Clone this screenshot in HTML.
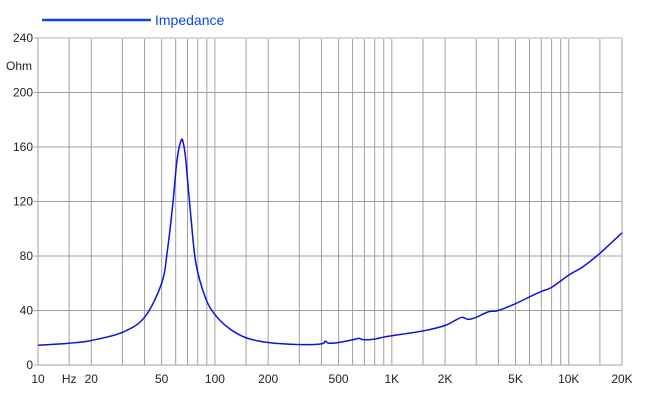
<!DOCTYPE html><html><head><style>body{margin:0;background:#fff}svg{display:block;font-family:"Liberation Sans",Arial,sans-serif}</style></head><body>
<svg id="s" width="650" height="406" xmlns="http://www.w3.org/2000/svg">
<line x1="42" y1="20" x2="151" y2="20" stroke="#0a46f0" stroke-width="2.5"/>
<text x="155" y="25" font-size="14" fill="#0a46f0">Impedance</text>
<g id="g"></g>
</svg>
<script>
const s=document.getElementById('g');
const L=38,R=622,T=38,B=365,D=(R-L)/Math.log10(2000);
const X=f=>L+Math.log10(f/10)*D,Y=v=>B-(v/240)*(B-T);
let h='';
[15,20,30,40,50,60,70,80,90,100,150,200,300,400,500,600,700,800,900,1000,1500,2000,3000,4000,5000,6000,7000,8000,9000,10000,15000,20000].forEach(f=>{h+=`<line x1="${X(f)}" y1="${T}" x2="${X(f)}" y2="${B}" stroke="#a0a0a0" stroke-width="1"/>`});
for(let v=40;v<=200;v+=40)h+=`<line x1="${L}" y1="${Y(v)}" x2="${R}" y2="${Y(v)}" stroke="#a0a0a0"/>`;
h+=`<line x1="${L}" y1="${T}" x2="${R}" y2="${T}" stroke="#d8d8d8" stroke-width="2"/>`;
h+=`<line x1="${L}" y1="${T}" x2="${L}" y2="${B}" stroke="#a0a0a0"/><line x1="${L}" y1="${B}" x2="${R}" y2="${B}" stroke="#a0a0a0"/>`;
for(let v=0;v<=240;v+=40){h+=`<line x1="${L-4}" y1="${Y(v)}" x2="${L}" y2="${Y(v)}" stroke="#a0a0a0"/><text x="${L-5}" y="${Y(v)+4}" font-size="12" text-anchor="end" fill="#222">${v}</text>`}
h+=`<text x="6" y="70" font-size="12" fill="#222">Ohm</text>`;
[[10,'10'],[15,'Hz'],[20,'20'],[50,'50'],[100,'100'],[200,'200'],[500,'500'],[1000,'1K'],[2000,'2K'],[5000,'5K'],[10000,'10K'],[20000,'20K']].forEach(([f,t])=>{h+=`<text x="${X(f)}" y="383" font-size="12" text-anchor="middle" fill="#222">${t}</text>`});
const d=[[10,14.5],[15,16],[20,18],[30,24],[40,35],[50,60],[54,85],[58,120],[61,150],[64.5,165],[66.5,162],[68.5,150],[73,110],[78,75],[88,50],[100,37],[120,27],[150,20],[200,16.5],[300,15],[400,15.5],[420,17.5],[440,16],[500,16.5],[600,18.5],[650,19.5],[700,18.5],[800,19],[900,20.5],[1000,21.5],[1500,25],[2000,29],[2300,33],[2500,35],[2700,33.5],[3000,35],[3500,39],[4000,40],[5000,45],[6000,50],[7000,54],[8000,57],[10000,66],[12000,72],[15000,82],[20000,97]];
const P=d.map(([f,v])=>[X(f),Y(v)]);
let p=`M${P[0][0]},${P[0][1]}`;
for(let i=0;i<P.length-1;i++){const a=P[Math.max(0,i-1)],b=P[i],c=P[i+1],e=P[Math.min(P.length-1,i+2)];
p+=`C${b[0]+(c[0]-a[0])/6},${b[1]+(c[1]-a[1])/6} ${c[0]-(e[0]-b[0])/6},${c[1]-(e[1]-b[1])/6} ${c[0]},${c[1]}`}
h+=`<path d="${p}" fill="none" stroke="#1010e0" stroke-width="1.5"/>`;
s.innerHTML=h;
</script></body></html>
